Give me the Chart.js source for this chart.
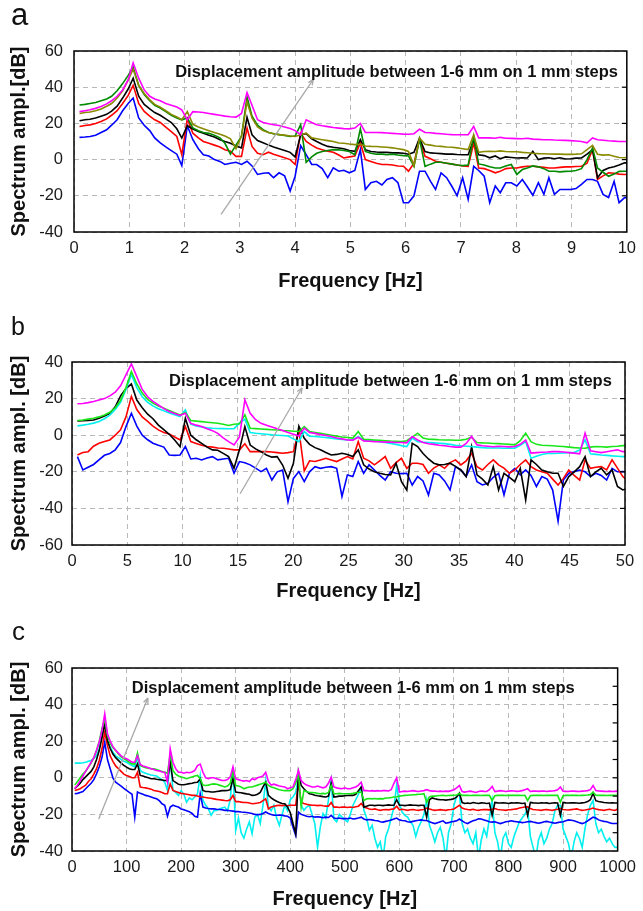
<!DOCTYPE html>
<html><head><meta charset="utf-8">
<script src="https://cdn.jsdelivr.net/npm/chart.js@4.4.1/dist/chart.umd.min.js"></script>
<style>
html,body{margin:0;padding:0;background:#fff;width:643px;height:911px;overflow:hidden;}
canvas{position:absolute;left:0;}
#ca{top:0}#cb{top:300px}#cc{top:605px}
</style></head><body>
<canvas id="ca" width="643" height="300"></canvas>
<canvas id="cb" width="643" height="305"></canvas>
<canvas id="cc" width="643" height="306"></canvas>
<script>
// ---------- Panel a : 0-10 Hz ----------
const freqA = [0.10,0.20,0.29,0.39,0.49,0.59,0.68,0.78,0.88,0.98,1.07,1.17,1.27,1.37,1.46,1.56,1.66,1.76,1.86,1.95,2.05,2.15,2.25,2.34,2.44,2.54,2.64,2.73,2.83,2.93,3.03,3.13,3.22,3.32,3.42,3.52,3.61,3.71,3.81,3.91,4.00,4.10,4.20,4.30,4.39,4.49,4.59,4.69,4.79,4.88,4.98,5.08,5.18,5.27,5.37,5.47,5.57,5.66,5.76,5.86,5.96,6.05,6.15,6.25,6.35,6.45,6.54,6.64,6.74,6.84,6.93,7.03,7.13,7.23,7.32,7.42,7.52,7.62,7.71,7.81,7.91,8.01,8.11,8.20,8.30,8.40,8.50,8.59,8.69,8.79,8.89,8.98,9.08,9.18,9.28,9.38,9.47,9.57,9.67,9.77,9.86,9.96,10.06];
const magA = [26.5,27,27.5,28.3,29.3,30.8,32.5,35,38.5,44, 53.5,45,38.5,35,33.5,32.5,31,30,29,27.5, 22,26.5,26.3,26,25.5,25,24.5,24,23.7,23.5, 25.5,37,30,22,20.5,19.8,19.3,18.8,18,17.2, 16,13.8,22,20.5,19.3,18.7,18.2,17.7,17.4,17.1, 17,17.4,20,15,15,15,14.9,14.7,14.5,14.3, 14.1,14,14.3,16.8,15,14.8,14.5,14.3,14,13.8, 13.7,13.7,13.8,18.3,12,12.1,12,11.8,12.3,11.8, 11.7,11.6,11.5,11.8,11.3,11.2,11,11,10.8,10.7, 10.6,10.5,10.3,10,9.3,12,11,10.7,10.4,10.2, 10,10,10];
const oliveA = [25.5,26,26.3,27,28,29.5,31,34,38,44, 50,41,36.5,33,30.5,29,27,25,23.5,22, 26.5,19.5,18,17,16,15,14,13,11.5,6, 13,32,23,18,16,15,14.3,13.8,13.5,13, 12.8,13.7,14.6,12,11.5,11,10.5,10,9.2,9, 8.6,8.3,8.5,7.5,7.3,7.2,7,6.8,6.5,6, 5.5,4.5,-3.3,11.9,8.5,8,7.5,7.3,7,6.8, 6.5,6,5.5,13.7,4,4.5,4.6,4.5,4.8,4.5, 4.3,4.3,4,3.8,3.5,3.3,3.2,3.1,3,3, 2.9,2.9,3,3.2,5.5,7.8,3,2.5,2.7,1.8, 1.2,1,1.5];
const greenA = [30.2,30.5,31,31.5,32.5,33.5,35,38,42,46.5, 51,41,36,32.5,30,28.5,26.5,24.5,23,22, 23,17.5,16,15,14.5,13.5,12,9,3,8, 13,34.5,24,19,16.5,15,14.3,13.8,13.3,12.8, 13,19.3,-1.5,1.5,3.5,4.5,5,5.5,5.4,5, 4.5,2.7,17,4.5,3.5,3,3,2.7,3,2.5, 2.2,2,-3.7,11.4,-3.7,-2.5,-1.5,-1.5,-2,-2.5, -3,-3.3,-3,12.8,-2.4,-3,-4,-4.6,-4.6,-3.5, -2.7,-8.2,-5.5,-4.6,-3.5,-4,-5,-6.4,-6.4,-6.8, -6.5,-6.4,-6,-5,0,6.5,-4.6,-7,-9.2,-8, -6.5,-6.4,-6.5];
const blackA = [21.5,22,22.3,23,24,25,26.8,29.5,34,39, 45,35,30.5,28,26,24.5,22.5,20.5,17,11.9, 18.7,16.9,15.5,14.5,13.5,12.5,11,10,9,7.5, 6.5,23.4,13.7,10.5,9.3,8,7,6,5,4, 1.5,13.7,14.3,11.5,10,8.5,7.3,6.8,6.4,6, 5,4.6,11,5.5,4.5,4.2,4,4,3.7,3.7, 3.5,3,4,11.9,4.5,3.7,3.5,3.3,3,3, 2.8,2.7,2.7,11,2.7,2.2,1,2,0.5,1.5, 1.2,0.9,1,0.9,4.6,0,0.8,1,0.5,1, 0.3,0.5,0.8,0.9,3,5.5,-10,-6,-4.6,-4, -3,-1.8,-1.8];
const redA = [18.3,18.8,19.2,20,21,22.5,24.5,27,31,35.5, 41,31,26.6,24,22,20.5,18,15.5,12.8,2.7, 22.5,14.6,12,10,9,8,7,5.5,4.6,1.8, 1.8,17.4,7.3,3.5,2.7,4.1,3,2,1,0, -2.7,14.6,10,8,6.4,5.5,4.6,4.1,2.5,0.9, 1.5,2,9.2,0,-1,-2,-2.7,-2.7,-3,-3.5, -3.7,-6.4,-2,11,1.8,0.5,-0.9,-1.5,-2,-2.5, -3,-3.5,-3.7,9.2,-4.6,-5,-6,-7.3,-6.5,-5, -4.6,-4.6,-4,-3.7,-3.7,-4,-4.3,-4.6,-4.6,-4.3, -4,-4,-3.8,-3.7,-2,5.5,-11,-9,-7.3,-7.5, -8,-8.2,-8];
const blueA = [12.3,12.5,12.8,13.5,15,16.5,19,22,27,31, 34,23,19,16,12,9.2,7,5,3,-3.3, 18.7,11,6,2.7,2,0,-1,-2.7,-2,-1.5, -2.7,-0.9,-3.5,-8.2,-7.5,-7.3,-10,-7.3,-9,-17.4, -9.2,7.7,2.7,-2.7,-2.7,-5,-10,-4.6,-6.4,-5.9, -7.3,-6,5.5,-16.5,-12.8,-12,-14,-11,-10,-12.8, -23.8,-23.8,-20,-6.4,-6.4,-12,-16.5,-7.3,-10,-15, -20,-10,-22,-3.7,-6,-9.2,-23.8,-14.6,-18.3,-12.8, -12.8,-14.6,-11,-15,-19.7,-12.8,-19.2,-10,-19.2,-16.5, -16.5,-16.5,-16,-13.7,-11,-11,-12,-19.2,-21,-12, -23.8,-21,-21];
const yTicksA = [-40,-20,0,20,40,60];
const xTicksA = [0,1,2,3,4,5,6,7,8,9,10];

// ---------- Panel b : 0-50 Hz ----------
const freqB = [0.49,0.98,1.46,1.95,2.44,2.93,3.42,3.91,4.39,4.88,5.37,5.86,6.35,6.84,7.32,7.81,8.30,8.79,9.28,9.77,10.25,10.74,11.23,11.72,12.21,12.70,13.18,13.67,14.16,14.65,15.14,15.63,16.11,16.60,17.09,17.58,18.07,18.55,19.04,19.53,20.02,20.51,21.00,21.48,21.97,22.46,22.95,23.44,23.93,24.41,24.90,25.39,25.88,26.37,26.86,27.34,27.83,28.32,28.81,29.30,29.79,30.27,30.76,31.25,31.74,32.23,32.71,33.20,33.69,34.18,34.67,35.16,35.64,36.13,36.62,37.11,37.60,38.09,38.57,39.06,39.55,40.04,40.53,41.02,41.50,41.99,42.48,42.97,43.46,43.95,44.43,44.92,45.41,45.90,46.39,46.88,47.36,47.85,48.34,48.83,49.32,49.80,50.29];
const magB = [17.2,17.3,17.8,18.4,19.2,20,21.5,23.5,27,33, 38.9,32,25,21,18.5,16.5,14.5,13,11.8,10.8, 12,6.5,5.5,4.7,3.5,2.5,1,-1.5,-3.5,-5.3, -1,19.3,12,8.5,6.5,5.5,4.5,3.5,2.6,1.5, 0.5,-0.5,3.8,1.5,1,0.3,-0.2,-0.7,-1.5,-2, -2.6,-2.7,-1.1,-3.1,-3.3,-3.5,-3.6,-3.8,-3.8,-4, -4,-4.2,-0.7,-2.6,-4,-4.7,-5,-5.5,-5.8,-6.2, -6.5,-6.5,-4.5,-0.7,-5.3,-5.8,-6,-6.3,-6,-6.2, -6.4,-6.2,-5,-2.6,-9.8,-9.5,-9.3,-9.2,-9,-9, -9.2,-9.5,-9.8,-10.2,1.1,-8.5,-9,-9.5,-9,-8.5, -8,-9,-9];
const greenB = [8,8.3,8.8,9.3,10,11,12.5,15,19,26, 34.8,28,23,19.5,17.5,16,14.8,13.5,12.3,11.1, 12.4,8,7.7,7.4,7.1,6.8,6.5,6,5.3,6, 6.2,11.1,3.8,3.6,3.4,3.2,3,2.8,2.6,2.4, 2.2,2,4.7,2,1.5,1,0.5,0,-0.5,-1, -1.3,-1.6,2,-2.2,-2.4,-2.6,-2.8,-3,-3.2,-3.3, -3.5,-3,-1,1.1,-1.5,-2.2,-2.3,-2.5,-2.6,-2.6, -2.8,-2.7,-2.2,-1.1,-4,-4.2,-4.3,-4.5,-4.6,-4.8, -5,-5.3,-3,1.1,-3.5,-5,-5.5,-5.6,-5.8,-6, -6.2,-6.5,-6.8,-7,-7.1,-6.5,-6.2,-6.3,-6.5,-6.2, -6,-5.7,-5.7];
const cyanB = [5.1,5.5,6,6.6,7.5,9,11,14,18,25, 33,26,21,18,16,14.5,13.3,12.2,11.2,10.2, 13.9,6,5,4.5,4,3.8,3.7,3.6,3.5,3.6, 6.6,8.8,1.5,1.1,0.8,0.5,0.2,0,-0.2,-0.4, -2,-3.5,2,-0.5,-0.7,-1,-1.3,-1.6,-2,-2.3, -2.6,-2.6,-0.7,-2.9,-3,-3.2,-3.5,-4,-4.5,-5, -5.7,-6.2,-1.6,-3.5,-3.8,-4,-4.2,-4.4,-4.6,-5, -5.5,-5.8,-6,-6.2,-6.5,-6.8,-7,-7,-7,-7.1, -7.1,-7.1,-5.5,-3.5,-12.6,-11.5,-10.5,-10,-10,-9.9, -9.7,-9.5,-9.5,-8,-2.6,-10.2,-10.5,-10.8,-11,-11.3, -11.5,-11.7,-11.7];
const blackB = [7.8,7.9,8.1,8.3,9.3,10.5,12,15.5,21.5,25.5, 28,19.2,15,11.5,9,5.5,3,0.5,-2.6,-6.3, 9.2,0,-2.5,-4.5,-6.5,-8,-8.2,-9.9,-11.7,-18, -8,4.7,-5.4,-7.5,-9,-10.8,-12,-11.7,-16.3,-23.6, -15.4,5,-1.7,-5,-6.8,-8,-9.5,-10.8,-10.5,-9.9, -10.5,-11.7,-8,-16.2,-18.5,-20,-20.8,-21.5,-21.7,-15.3, -25.4,-30,-4.4,-6.2,-10,-13,-15.3,-16.2,-16,-15.3, -17,-19,-22.6,-6.2,-21.7,-24,-27.2,-17.2,-29.9,-20.8, -23,-25.4,-18.1,-35.4,-13.5,-16,-19,-20,-20.8,-20.8, -28,-22.6,-20,-17.2,-11.7,-22.6,-20,-18.1,-21.7,-19, -28,-29.9,-29];
const redB = [-10.8,-9.5,-9,-6,-4.4,-3.5,-2.6,0,3,10, 21.2,14,10,7.5,5,2.9,1.5,0.7,-1,-2.6, 4.7,-3.5,-4.5,-5.5,-6.2,-6.5,-7,-7.1,-7.5,-8, -8,-4.7,-9,-9,-9,-9,-9.2,-9.5,-9.9,-9.5, -9,3,-19.5,-14,-14.4,-13.5,-12.6,-13.5,-14.4,-13, -11.7,-13,-3.5,-12.6,-14,-16.2,-14,-11.7,-18.1,-15, -12.6,-18.1,-15.3,-15.3,-16,-20.8,-18,-16.2,-18.1,-15, -13.5,-16.2,-14,-9.9,-17.2,-19,-16,-13.5,-16.2,-18, -20.8,-19,-16,-13.5,-17.2,-19,-20,-20.8,-24,-27.2, -23.6,-19,-22,-24.5,-13.5,-18.1,-17.5,-17.2,-19,-13.5, -18,-22.6,-25];
const blueB = [-11.7,-19,-17.5,-16,-13.5,-11,-10,-8,-4,4.7, 12,5,0,-2.5,-4.4,-5.5,-6.5,-10.8,-11,-10.8, -6.2,-13,-12.6,-13.5,-12.5,-11.7,-13.5,-13,-12.6,-20.8, -14.4,-15,-16.2,-18,-19.9,-18.1,-24.5,-20,-19,-36.3, -23.6,-19.9,-25.4,-20,-17.2,-18.1,-17.5,-17.2,-18.1,-33.5, -21.7,-22.6,-14.4,-20.8,-16.2,-19,-22,-24.5,-19.9,-20.8, -21,-20.8,-27.2,-22.6,-25,-32.7,-20.8,-21.7,-25,-29.9, -17.2,-19,-22.6,-16.2,-25.4,-27.2,-26.3,-23,-20.8,-32.7, -20.8,-18.1,-21.7,-19,-22,-28,-22.6,-24,-30,-47, -24.5,-20.8,-19.9,-19,-20,-22.6,-20.8,-22,-24.5,-18.1, -20,-19.9,-20];
const yTicksB = [-60,-40,-20,0,20,40];
const xTicksB = [0,5,10,15,20,25,30,35,40,45,50];

// ---------- Panel c : 0-1000 Hz ----------
const freqC = [5,10,15,20,25,30,35,40,45,50,55,60,65,70,75,80,85,90,95,100,
105,110,115,120,125,130,135,140,145,150,155,160,165,170,175,180,185,190,195,200,
205,210,215,220,225,230,235,240,245,250,255,260,265,270,275,280,285,290,295,300,
305,310,315,320,325,330,335,340,345,350,355,360,365,370,375,380,385,390,395,400,
405,410,415,420,425,430,435,440,445,450,455,460,465,470,475,480,485,490,495,500,
505,510,515,520,525,530,535,540,545,550,555,560,565,570,575,580,585,590,595,600,
605,610,615,620,625,630,635,640,645,650,655,660,665,670,675,680,685,690,695,700,
705,710,715,720,725,730,735,740,745,750,755,760,765,770,775,780,785,790,795,800,
805,810,815,820,825,830,835,840,845,850,855,860,865,870,875,880,885,890,895,900,
905,910,915,920,925,930,935,940,945,950,955,960,965,970,975,980,985,990,995,1000];
const magC = [-6,-4,-1.5,1,3.5,6,8.5,11,15,19.5,26,35,24,20,17,15,13.5,12,11,10.4,
9.5,8.5,8.5,12,7.3,6.5,6,5.5,5,4.5,4,3.8,3.2,3,-2.4,15.8,8.5,5,3,3,
2.5,3,2.8,3.2,4,6.7,7.5,3,0,-0.5,0,0,-0.5,-1,-1.5,-1.5,-1,0.5,6,-0.5,
-1,-1.5,-1.8,-1.5,-2,-0.5,-1,0,0.5,1,3,-2,-4,-3.5,-4,-4.5,-4.8,-5,-6,-5.5,
-5,-1,4,-1.5,-3,-4,-4.5,-5,-5,-4.5,-5,-5.5,-5,-3,0.4,-5,-5.5,-5.8,-6,-5.5,
-6,-6,-5.5,-5,-4,-2.4,-7,-7,-7.2,-7,-7.3,-7,-7.2,-7,-7,-7.2,-6.5,-3,0,-7.8,
-7.5,-7.3,-7.5,-7.2,-7,-7.3,-7.5,-7.2,-7,-6.5,-7,-7.3,-7.2,-7.5,-7.3,-7.5,-7.3,-7.4,-7,-6.5,
-5.5,-4.2,-7.5,-7.8,-7.5,-7.3,-7.6,-8,-7.5,-7.2,-7.4,-7.5,-6.5,-4.7,-7.5,-7.3,-7,-7.2,-7.5,-7.3,
-7.1,-7.2,-7.4,-7.3,-7,-6.5,-6,-7.5,-7.3,-7.2,-7.4,-7.3,-7.2,-7.5,-7.3,-7.2,-7,-6.5,-5,-7.3,
-7.4,-7.5,-7.2,-7.3,-7.4,-7.5,-7.3,-7.2,-7,-6.5,-4.2,-7,-7.2,-7.3,-7.4,-7.5,-7.3,-7.5,-7.4,-7.3];
const greenC = [-4,-2,0,2,3.5,5.8,8,11,15,20,27,32,23,19,16.5,15,13,11.5,10.5,9.5,
8.5,7.6,7.5,13.5,6.7,6,5.5,5.2,5,4.9,4.5,4,3.5,3,2.5,13,4,2,1,0.5,
0,-0.5,0,0.5,1,1.3,-0.5,-4,-4.2,-4,-3.5,-3.3,-3.5,-4,-4.5,-5,-4.5,-3,4,-4.2,
-4.5,-5,-6,-5.5,-5,-5,-4.5,-4,-3.5,-3,-2.4,-4.2,-5,-5.5,-6,-6.5,-6.8,-7,-7,-7,
-6,-3,2.2,-16,-7,-7.5,-8,-8,-8.2,-8.5,-8.7,-8.5,-8.7,-8,-4.2,-8.7,-8.7,-8.5,-8.7,-8.7,
-8.7,-8.7,-8.5,-8.2,-8,-7.8,-12.4,-11.5,-11.3,-11.5,-11.3,-11.5,-11.4,-11.5,-11,-11,-10.8,-10.5,-10.5,-10,
-9.8,-9.6,-9.5,-9.4,-9.3,-9.2,-9,-9,-8.7,-13.3,-10.5,-10,-10,-9.8,-9.7,-9.6,-9.8,-9.7,-9.6,-9.5,
-9.4,-8.5,-9.6,-9.5,-9.6,-9.7,-9.6,-9.5,-9.6,-9.7,-9.6,-9.5,-9.6,-12.4,-9.8,-9.6,-9.5,-9.6,-9.7,-9.5,
-9.6,-9.6,-9.5,-9.6,-9.7,-9.6,-12.4,-9.8,-9.6,-9.5,-9.6,-9.5,-9.7,-9.6,-9.5,-9.6,-9.5,-9.6,-13.3,-9.8,
-9.6,-9.5,-9.6,-9.5,-9.6,-9.7,-9.6,-9.5,-9.4,-9.2,-7.8,-9.5,-9.6,-9.5,-9.6,-9.7,-9.6,-9.5,-9.6,-9.6];
const blackC = [-6,-4.5,-3,-1,0.5,2,3.5,6,10,15,22,29.8,20.4,16,13,11,9.5,8,6.8,5.8,
5,4.5,4.5,7.6,1.3,1,0.5,0,-0.5,-0.5,-0.8,-1,-1.2,-1.5,-1.5,8.5,-1.5,-2.5,-3.5,-3.8,
-3.8,-3.5,-3.2,-3,-2.6,-2.4,-0.5,-6.9,-7.5,-7.5,-7.8,-7.8,-7.5,-7.3,-7,-7,-6.9,-6.5,-0.5,-7.8,
-8,-8.2,-8.5,-8.8,-9,-9.6,-9.5,-9,-8,-5,-2.4,-9.6,-11,-12,-12.8,-13.5,-14,-14.2,-16,-19,
-25,-30.5,3,-4.2,-6,-7.5,-8.7,-9,-9.5,-9.8,-10,-10.3,-10.5,-10,-3,-10.5,-10.3,-10,-10,-9.8,
-9.7,-9.6,-9.6,-9,-7,-5,-16,-15.5,-15,-15,-15.2,-15,-15,-15.2,-15,-14.8,-15,-15,-12,-15,
-15,-15.2,-15,-14.8,-15,-15,-15.2,-15,-15,-21.5,-12,-11,-11.5,-11.8,-12,-12,-12.2,-12,-11.8,-11.5,
-10.5,-8.4,-13.5,-14,-13.8,-14,-13.5,-13.8,-14,-13.7,-13.8,-14,-13.8,-20.5,-13.5,-13.7,-13.8,-13.6,-13.8,-14,
-13.7,-13.8,-13.6,-13.8,-14,-13.8,-20.5,-13.5,-13.7,-13.8,-13.9,-13.6,-13.8,-13.7,-14,-13.8,-13.7,-13.8,-20.5,-13.5,
-13.7,-13.8,-13.6,-13.7,-13.8,-13.9,-13.7,-13.5,-13,-12,-8.4,-12.5,-13,-13.2,-13.5,-13.6,-13.8,-13.7,-13.8,-13.8];
const redC = [-7,-6.5,-6,-5,-4,-2,-0.5,2,5,9.5,16,25,17.6,12,9,6.5,5,3.5,2,1.3,
0.7,0,0,3,-5,-5.3,-5.5,-5.8,-6.2,-6.9,-7.2,-7.5,-8,-8.7,-8.7,-3.3,-6.9,-7.5,-8,-8.5,
-8.7,-9,-9.3,-9.6,-9.6,-10,-10.5,-10.5,-10.8,-11,-11.2,-11.5,-11.8,-12,-12.2,-12.4,-12.5,-12,-9.6,-13,
-13,-13.3,-13.5,-13.5,-13.8,-14.2,-14,-13.8,-13.5,-12.5,-11.5,-17,-16,-15.5,-15.2,-15,-15.2,-15,-15.3,-15,
-15,-15,-2.4,-13.3,-14,-14.5,-14.8,-15,-15,-15.2,-15,-15.3,-15.5,-15.5,-13.5,-16,-16,-16.2,-16,-16,
-16.2,-16,-16.2,-15.8,-15.5,-14,-16,-16.5,-17,-17.3,-17,-17.5,-17.8,-17.5,-17.3,-17.5,-17.2,-17,-15.5,-17.5,
-17.2,-17.5,-17.8,-17.5,-17.3,-17.6,-17.8,-17.5,-17.3,-16.5,-17,-17.5,-17.8,-17.6,-17.4,-17.6,-17.8,-17.5,-17.3,-17,
-16,-15,-16.5,-17,-17.3,-17.5,-17.2,-17.6,-17.8,-17.5,-17.3,-17.4,-17.5,-17.2,-16.8,-17.3,-17.5,-17.6,-17.8,-17.5,
-17.4,-17.2,-17,-16.5,-16.2,-16,-15.8,-16.8,-17.3,-17.5,-17.6,-17.8,-17.5,-17.4,-17.6,-17.8,-17.5,-17.2,-16.8,-17.3,
-17.5,-17.6,-17.4,-17.2,-17,-17.5,-17.8,-17.6,-17.3,-17,-16.5,-17,-17.4,-17.6,-17.8,-17.5,-17.2,-17.6,-17.8,-17];
const blueC = [-8.7,-8.5,-8,-7.5,-6,-4.5,-3,-1,2.2,6,11.3,19.5,10,5,0,-2.4,-3.5,-4.5,-5.8,-6.9,
-8,-9,-21.5,-7.8,-8.5,-9,-9.6,-10,-10.5,-11,-11.5,-12.5,-14.2,-15,-21,-16,-15,-15.5,-16,-17,
-17.5,-18,-18.5,-19.5,-21,-21.5,-8.7,-16,-16.5,-16.8,-17,-17,-17.2,-17.3,-17.5,-17.8,-17.8,-18,-18.2,-18.5,
-18.5,-18.7,-18.8,-19,-19.2,-19.5,-20,-20.2,-20,-19.5,-18.7,-19.5,-20,-20.5,-20.5,-20.3,-20.5,-20.8,-21,-22,
-27,-31.5,-18.7,-20,-20.5,-21,-21.3,-21,-21.5,-21.3,-21.5,-21.8,-21.5,-21.7,-20.5,-22,-22.2,-22,-22.4,-22.2,
-22.4,-22,-22.5,-22.3,-22,-21.5,-22.5,-23,-22.8,-23,-23.3,-23.5,-24,-24.2,-23.8,-23.5,-23,-22.5,-22,-23,
-23.3,-23.5,-24,-24.2,-23.8,-23.5,-23.2,-23,-23.3,-23.3,-24,-24.5,-25,-24.5,-24,-23.5,-24.8,-24.5,-24,-23.8,
-23.5,-22.5,-23.5,-24.5,-25,-24.2,-23.5,-23,-22.4,-22.5,-23,-23.5,-24,-24.2,-24,-24.5,-25,-24.5,-24,-23.8,
-23.5,-23.8,-24,-24.2,-24.5,-24.3,-24,-23.8,-24.2,-24.5,-24.8,-24.5,-24,-23.8,-24.2,-24.5,-24.8,-24.5,-24.2,-24,
-23.5,-23,-23.2,-23.5,-24,-24.5,-25,-24.5,-23.5,-22.5,-21.5,-22,-23,-23.5,-23.8,-24,-24.5,-25,-25,-25];
const cyanC = [8,8,8,8.2,8.5,9,9.5,10.5,12.2,16,25.8,31.3,20,16.7,14,12,11,10,9,8.5,
7.5,6.7,6,11.3,4,3,2.5,2,1.5,1.3,1,0,-1,-2.4,-6.9,11.3,-6.9,-8,-9.6,-7,
-9,-13.3,-11,-12,-10.5,-8.7,1.3,-12.4,-15,-17,-20.5,-18,-17.8,-17,-16.5,-16,-18,-12,5,-28.7,
-22,-30,-33,-28,-24,-30.5,-21.5,-20,-25,-15,-1.5,-16,-18,-15,-22,-26,-20,-15,-18,-12,
-10.5,-8,0.4,-15,-17.8,-16,-15,-20,-25,-38,-27,-19.6,-22,-12,-1.5,-22.4,-24,-20,-21.5,-23,
-24,-20,-15,-12,-9,-5,-17.8,-22,-28.7,-26,-33,-38,-35,-44,-32,-28,-22,-16,-4,-14,
-18.7,-20.5,-21.5,-24,-26,-32,-27,-24,-20,-12,-26,-30,-35,-30,-27,-33,-44,-30,-25,-15,
-10,-8.7,-25,-30,-28,-33,-36,-30,-44,-34,-28,-32,-22,-12.4,-30,-35,-44,-33,-30,-36,
-38,-32,-28,-24,-22,-20,-17,-32,-38,-44,-34,-30,-36,-33,-28,-25,-18,-15,-15,-28,
-32,-36,-44,-35,-30,-33,-38,-28,-20,-15,-12.4,-25,-30,-28,-32,-35,-33,-36,-38,-38];
const yTicksC = [-40,-20,0,20,40,60];
const xTicksC = [0,100,200,300,400,500,600,700,800,900,1000];

const noteText = 'Displacement amplitude between 1-6 mm on 1 mm steps';
const FONT = '"Liberation Sans", Arial, Helvetica, sans-serif';
Chart.defaults.font.family = FONT;

const decor = {
  id: 'decor',
  afterDatasetsDraw(chart, args, o) {
    const {ctx, chartArea: a, scales: {x, y}} = chart;
    ctx.save();
    const x1 = x.getPixelForValue(o.arrow[0]), y1 = y.getPixelForValue(o.arrow[1]);
    const x2 = x.getPixelForValue(o.arrow[2]), y2 = y.getPixelForValue(o.arrow[3]);
    ctx.strokeStyle = '#a8a8a8'; ctx.lineWidth = 1.3;
    ctx.beginPath(); ctx.moveTo(x1, y1); ctx.lineTo(x2, y2); ctx.stroke();
    const ang = Math.atan2(y2 - y1, x2 - x1);
    ctx.beginPath();
    ctx.moveTo(x2, y2); ctx.lineTo(x2 - 6 * Math.cos(ang - 0.4), y2 - 6 * Math.sin(ang - 0.4));
    ctx.moveTo(x2, y2); ctx.lineTo(x2 - 6 * Math.cos(ang + 0.4), y2 - 6 * Math.sin(ang + 0.4));
    ctx.stroke();
    ctx.strokeStyle = '#000'; ctx.lineWidth = 1.5;
    ctx.strokeRect(a.left, a.top, a.right - a.left, a.bottom - a.top);
    ctx.lineWidth = 1.2;
    o.rightTicks.forEach(v => {
      const py = y.getPixelForValue(v);
      ctx.beginPath(); ctx.moveTo(a.right, py); ctx.lineTo(a.right - 5, py); ctx.stroke();
    });
    ctx.fillStyle = '#111';
    ctx.font = 'bold 16.5px ' + FONT;
    ctx.textAlign = 'left'; ctx.textBaseline = 'alphabetic';
    ctx.fillText(noteText, x.getPixelForValue(o.note[0]), y.getPixelForValue(o.note[1]));
    ctx.font = o.letterSize + 'px ' + FONT;
    ctx.fillText(o.letter, o.letterPos[0], o.letterPos[1]);
    ctx.restore();
  }
};

function build(id, p) {
  const datasets = p.series.map(s => ({
    label: s.label,
    data: p.freq.map((f, i) => ({x: f, y: s.values[i]})),
    borderColor: s.color, backgroundColor: s.color,
    borderWidth: 1.6, pointRadius: 0, tension: 0, fill: false
  }));
  const gridOpts = {color: '#b8b8b8', lineWidth: 1, drawTicks: false};
  return new Chart(document.getElementById(id), {
    type: 'line',
    data: {datasets},
    options: {
      responsive: false, animation: false, events: [],
      layout: {padding: {top: p.padTop, right: p.padRight, left: 0, bottom: 0}},
      plugins: {legend: {display: false}, tooltip: {enabled: false},
        decor: {arrow: p.arrow, note: p.note, letter: p.letter, letterSize: p.letterSize, letterPos: p.letterPos, rightTicks: p.rightTicks}},
      scales: {
        x: {type: 'linear', min: p.xTicks[0], max: p.xTicks[p.xTicks.length - 1],
          afterBuildTicks: s => { s.ticks = p.xTicks.map(v => ({value: v})); },
          ticks: {padding: 7, font: {size: 16.5}, color: '#1a1a1a', maxRotation: 0, autoSkip: false, callback: v => String(v)},
          grid: gridOpts, border: {display: false, dash: [5, 4]},
          title: {display: true, text: 'Frequency [Hz]', color: '#111', font: {size: 20, weight: 'bold'}, padding: {top: 0, bottom: p.xTitlePad}},
          afterFit: s => { s.height = p.xAxisH; }},
        y: {type: 'linear', min: p.yTicks[0], max: p.yTicks[p.yTicks.length - 1],
          afterBuildTicks: s => { s.ticks = p.yTicks.map(v => ({value: v})); },
          ticks: {padding: p.yTickPad, font: {size: 16.5}, color: '#1a1a1a', callback: v => String(v)},
          grid: gridOpts, border: {display: false, dash: [5, 4]},
          title: {display: true, text: p.yTitle, color: '#111', font: {size: 20, weight: 'bold'}, padding: {top: 7, bottom: 0}},
          afterFit: s => { s.width = p.yAxisW; }}
      }
    },
    plugins: [decor]
  });
}

build('ca', {
  freq: freqA, xTicks: xTicksA, yTicks: yTicksA,
  series: [
    {label: '6 mm', values: magA, color: '#ff00ff'},
    {label: '5 mm', values: oliveA, color: '#8a8a00'},
    {label: '4 mm', values: greenA, color: '#008a00'},
    {label: '3 mm', values: blackA, color: '#000000'},
    {label: '2 mm', values: redA, color: '#ff0000'},
    {label: '1 mm', values: blueA, color: '#0000ff'}
  ],
  padTop: 51, padRight: 16, xAxisH: 68, yAxisW: 74, yTickPad: 11, xTitlePad: 7,
  yTitle: 'Spectrum ampl.[dB]',
  arrow: [2.66, -30.3, 4.33, 44.3], note: [1.83, 45.5],
  letter: 'a', letterSize: 31, letterPos: [11, 25],
  rightTicks: [-20, 0, 20, 40]
});

build('cb', {
  freq: freqB, xTicks: xTicksB, yTicks: yTicksB,
  series: [
    {label: '6 mm', values: magB, color: '#ff00ff'},
    {label: '5 mm', values: greenB, color: '#19e619'},
    {label: '4 mm', values: cyanB, color: '#00f0f0'},
    {label: '3 mm', values: blackB, color: '#000000'},
    {label: '2 mm', values: redB, color: '#ff0000'},
    {label: '1 mm', values: blueB, color: '#0000ff'}
  ],
  padTop: 62, padRight: 18, xAxisH: 60, yAxisW: 72, yTickPad: 9, xTitlePad: 2,
  yTitle: 'Spectrum ampl. [dB]',
  arrow: [15.2, -32, 20.8, 25.8], note: [8.77, 27.05],
  letter: 'b', letterSize: 25, letterPos: [11, 35],
  rightTicks: [-40, -20, 0, 20]
});

build('cc', {
  freq: freqC, xTicks: xTicksC, yTicks: yTicksC,
  series: [
    {label: '6 mm', values: magC, color: '#ff00ff'},
    {label: '5 mm', values: greenC, color: '#19e619'},
    {label: '3 mm', values: blackC, color: '#000000'},
    {label: '2 mm', values: redC, color: '#ff0000'},
    {label: '1 mm', values: blueC, color: '#0000ff'},
    {label: '4 mm', values: cyanC, color: '#00f0f0'}
  ],
  padTop: 63, padRight: 18, xAxisH: 60, yAxisW: 72, yTickPad: 9, xTitlePad: 0,
  yTitle: 'Spectrum ampl. [dB]',
  arrow: [49, -22.5, 139, 43.6], note: [109.7, 46.2],
  letter: 'c', letterSize: 26, letterPos: [12, 35],
  rightTicks: [-30, -20, -10, 0, 10, 20, 30, 40, 50]
});
</script>
</body></html>
